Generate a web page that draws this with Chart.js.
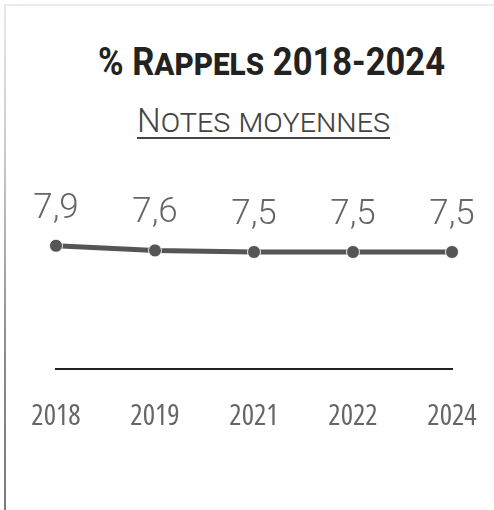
<!DOCTYPE html>
<html>
<head>
<meta charset="utf-8">
<script src="https://cdn.jsdelivr.net/npm/chart.js@4"></script>
<style>
  html, body { margin: 0; padding: 0; background: #fff; }
  body { width: 494px; height: 510px; position: relative; overflow: hidden; }
  #topline { position: absolute; left: 4px; top: 4px; width: 490px; height: 2px; background: #e9ebf7; }
  #leftline { position: absolute; left: 4px; top: 4px; width: 2px; height: 506px;
              background: linear-gradient(to bottom, #e6e8f5 0%, #c8c8d0 30%, #8a8a8a 70%, #7a7a7a 100%); }
  .ttl { position: absolute; left: 0; white-space: nowrap; line-height: 1; transform-origin: 0 0; font-family: Roboto, sans-serif; font-variant: small-caps; }
  #title { top: 43px; font-weight: 700; font-size: 38px; color: #222; }
  #subtitle { top: 103px; font-weight: 300; font-size: 34px; color: #444;
              text-decoration: underline; text-underline-offset: 5px; text-decoration-thickness: 2px; }
  #c { position: absolute; left: 0; top: 0; }
</style>
</head>
<body>
<div id="topline"></div>
<div id="leftline"></div>
<div id="title" class="ttl">% Rappels 2018-2024</div>
<div id="subtitle" class="ttl">Notes moyennes</div>
<canvas id="c" width="494" height="510"></canvas>
<script>
const categories = ["2018", "2019", "2021", "2022", "2024"];
const noteValues = [7.9, 7.6, 7.5, 7.5, 7.5];

// fit title texts to their widths in the reference
function fitText(id, left, width) {
  const el = document.getElementById(id);
  el.style.transform = 'none';
  const w = el.getBoundingClientRect().width;
  el.style.left = left + 'px';
  el.style.transform = 'scaleX(' + (width / w) + ')';
}
function fitAll() {
  fitText('title', 98, 347);
  fitText('subtitle', 137, 253);
}
fitAll();
if (document.fonts && document.fonts.ready) document.fonts.ready.then(fitAll);

const valueLabels = {
  id: 'valueLabels',
  afterDatasetsDraw(chart) {
    const ctx = chart.ctx;
    const meta = chart.getDatasetMeta(0);
    ctx.save();
    ctx.font = '300 35px Roboto';
    if ('fontStretch' in ctx) ctx.fontStretch = 'normal';
    ctx.fillStyle = '#666';
    ctx.textAlign = 'center';
    ctx.textBaseline = 'alphabetic';
    meta.data.forEach((pt, i) => {
      const v = chart.data.datasets[0].data[i];
      ctx.fillText(v.toFixed(1).replace('.', ','), pt.x, pt.y - 28);
    });
    ctx.restore();
  }
};

const chart = new Chart(document.getElementById('c'), {
  type: 'line',
  data: {
    labels: categories,
    datasets: [{
      data: noteValues,
      borderColor: '#555',
      borderWidth: 5,
      pointRadius: 6.5,
      pointHoverRadius: 6.5,
      pointBackgroundColor: '#555',
      pointBorderColor: 'rgba(255,255,255,0.85)',
      pointBorderWidth: 1,
      tension: 0
    }]
  },
  options: {
    responsive: false,
    animation: false,
    events: [],
    layout: { padding: { left: 56, right: 42, top: 213, bottom: 80 } },
    plugins: { legend: { display: false }, tooltip: { enabled: false }, title: { display: false } },
    scales: {
      x: {
        offset: false,
        grid: { display: true, drawOnChartArea: false, drawTicks: true, tickLength: 28, color: 'rgba(0,0,0,0)' },
        border: { display: true, color: '#222', width: 2 },
        ticks: { color: '#666', padding: 2, font: { family: "'Open Sans'", weight: 'condensed', size: 29 } }
      },
      y: { display: false, min: 0, max: 10 }
    }
  },
  plugins: [valueLabels]
});

// adjust padding so the plot area sits where it sits in the reference
const target = { left: 56, right: 452, top: 213, bottom: 369 };
for (let k = 0; k < 3; k++) {
  const ca = chart.chartArea;
  const p = chart.options.layout.padding;
  p.left += target.left - ca.left;
  p.right += ca.right - target.right;
  p.top += target.top - ca.top;
  p.bottom += ca.bottom - target.bottom;
  chart.update();
}
</script>
</body>
</html>
